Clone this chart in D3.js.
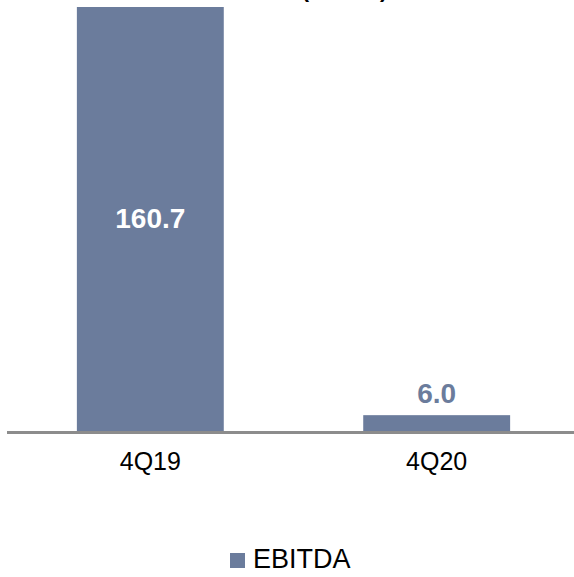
<!DOCTYPE html>
<html>
<head>
<meta charset="utf-8">
<script src="https://cdn.jsdelivr.net/npm/d3@7"></script>
<style>
  body { margin: 0; background: #fff; }
  svg { display: block; font-family: "Liberation Sans", Arial, sans-serif; }
</style>
</head>
<body>
<svg width="574" height="577"></svg>
<script>
var categories = ["4Q19", "4Q20"];
var ebitda = [160.7, 6.0];
var seriesName = "EBITDA";
var title = "EBITDA (R$ MM)";

var svg = d3.select("svg"),
    barColor = "#6b7c9c",
    baseY = 431;

var data = categories.map(function(c, i) { return { cat: c, value: ebitda[i] }; });

var xScale = d3.scaleBand().domain(categories).range([7, 580])
    .paddingInner(0.487).paddingOuter(0.244);
var yScale = d3.scaleLinear().domain([0, 160.7]).range([baseY, 7]);

// title, mostly cut off above the frame
svg.append("text")
    .attr("x", 301)
    .attr("y", -3)
    .attr("text-anchor", "middle")
    .attr("font-size", "22px")
    .attr("font-weight", "bold")
    .attr("fill", "#000")
    .text(title);

svg.selectAll(".bar")
    .data(data)
    .enter().append("rect")
    .attr("class", "bar")
    .attr("x", function(d) { return xScale(d.cat); })
    .attr("y", function(d) { return yScale(d.value); })
    .attr("width", xScale.bandwidth())
    .attr("height", function(d) { return baseY - yScale(d.value); })
    .attr("fill", barColor);

// value labels: inside for tall bar, above for short bar
svg.selectAll(".lbl")
    .data(data)
    .enter().append("text")
    .attr("class", "lbl")
    .attr("x", function(d) { return xScale(d.cat) + xScale.bandwidth() / 2; })
    .attr("y", function(d) {
        var h = baseY - yScale(d.value);
        return h > 60 ? yScale(d.value / 2) + 9 : yScale(d.value) - 12;
    })
    .attr("text-anchor", "middle")
    .attr("font-size", "28px")
    .attr("font-weight", "bold")
    .attr("fill", function(d) { return baseY - yScale(d.value) > 60 ? "#fff" : barColor; })
    .text(function(d) { return d.value.toFixed(1); });

// axis
var axis = svg.append("g")
    .attr("transform", "translate(0," + baseY + ")")
    .call(d3.axisBottom(xScale).tickSize(0).tickPadding(21));
axis.select(".domain").remove();
axis.selectAll("text")
    .attr("font-size", "25px")
    .attr("font-family", "Liberation Sans, Arial, sans-serif")
    .attr("fill", "#000");

svg.append("line")
    .attr("x1", 7).attr("x2", 574)
    .attr("y1", baseY + 1.5).attr("y2", baseY + 1.5)
    .attr("stroke", "#8c8c8c")
    .attr("stroke-width", 3);

// legend
var legend = svg.append("g").attr("transform", "translate(230,553)");
legend.append("rect")
    .attr("width", 15).attr("height", 15)
    .attr("fill", barColor);
legend.append("text")
    .attr("x", 23).attr("y", 15)
    .attr("font-size", "27px")
    .attr("fill", "#000")
    .text(seriesName);
</script>
</body>
</html>
